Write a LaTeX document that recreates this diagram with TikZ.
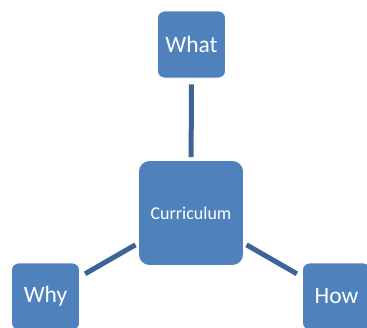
\documentclass[tikz,border=0pt]{standalone}
\usepackage{fontspec}
\setmainfont{Carlito}
\definecolor{boxfill}{RGB}{79,129,189}
\definecolor{linkcol}{RGB}{60,100,150}
\begin{document}
\begin{tikzpicture}[x=1pt,y=-1pt,
  boxstyle/.style={draw=white,line width=0.8pt,fill=boxfill,text=white,inner sep=0pt,rounded corners=7pt},
  outerbox/.style={boxstyle,minimum width=68pt,minimum height=67pt,font=\fontsize{23.5}{26}\selectfont},
  centerbox/.style={boxstyle,minimum width=105pt,minimum height=105pt,rounded corners=11pt,font=\fontsize{18}{21}\selectfont},
  link/.style={draw=linkcol,line width=5pt,shorten <=3pt,shorten >=6pt}]
\useasboundingbox (0,0) rectangle (367,327);
\begin{scope}
\clip (0,0) rectangle (367,327);
\node[centerbox] (c) at (191,213) {Curriculum};
\node[outerbox] (what) at (191.5,44.5) {What};
\node[outerbox] (why) at (45.5,296.5) {Why};
\node[outerbox] (how) at (336.5,296.5) {How};
\draw[link] (c) -- (what);
\draw[link] (c) -- (why);
\draw[link] (c) -- (how);
\end{scope}
\end{tikzpicture}
\end{document}
